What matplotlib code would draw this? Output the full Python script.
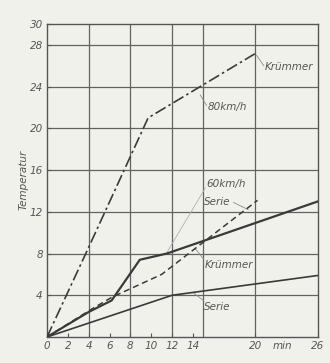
import matplotlib
matplotlib.use("Agg")
import matplotlib.pyplot as plt

# time in minutes, temperature
x_80_kruemmer = [0, 4, 9.7, 20.2]
y_80_kruemmer = [0, 8.6, 21.0, 27.3]

x_60_kruemmer = [0, 4, 6.2, 8.9, 11.5, 26]
y_60_kruemmer = [0, 2.4, 3.5, 7.4, 8.0, 13.0]

x_60_serie = [0, 4, 6.2, 11, 20.2]
y_60_serie = [0, 2.5, 3.8, 6.0, 13.1]

x_serie = [0, 12, 26]
y_serie = [0, 4.0, 5.9]

x_ticks = [0, 2, 4, 6, 8, 10, 12, 14, 20, 26]
x_ticklabels = ["0", "2", "4", "6", "8", "10", "12", "14", "20", "26"]
y_ticks = [4, 8, 12, 16, 20, 24, 28, 30]
x_grid = [4, 8, 12, 15, 20]
y_grid = [4, 8, 12, 16, 20, 24, 28]

plt.rcParams['font.family'] = ['Liberation Sans Narrow', 'DejaVu Sans']
bg = "#f1f1ec"
ink = "#3a3a3a"
txt = "#555555"

fig = plt.figure(figsize=(3.3, 3.63), dpi=100, facecolor=bg)
ax = fig.add_axes([47 / 330, 26 / 363, 271 / 330, 313 / 363], facecolor=bg)

for g in x_grid:
    ax.axvline(g, color="#626262", lw=0.9, zorder=1)
for g in y_grid:
    ax.axhline(g, color="#626262", lw=0.9, zorder=1)

ax.plot(x_80_kruemmer, y_80_kruemmer, color=ink, lw=1.2, ls=(0, (7, 2, 1.5, 2)), zorder=3)
ax.plot(x_60_kruemmer, y_60_kruemmer, color=ink, lw=1.6, zorder=3)
ax.plot(x_60_serie, y_60_serie, color=ink, lw=1.1, ls=(0, (4, 2.5)), zorder=3)
ax.plot(x_serie, y_serie, color=ink, lw=1.2, zorder=3)

ax.set_xlim(0, 26)
ax.set_ylim(0, 30)
ax.set_xticks(x_ticks)
ax.set_xticklabels(x_ticklabels)
ax.set_yticks(y_ticks)
ax.tick_params(direction="in", length=3, width=0.8, colors=txt, labelsize=7.5, pad=3)
for lab in ax.get_xticklabels() + ax.get_yticklabels():
    lab.set_style("italic")
for s in ax.spines.values():
    s.set_color("#555555")
    s.set_linewidth(1.0)

ax.text(22.6, -0.4, "min", ha="center", va="top", fontsize=7.5, style="italic", color=txt)
fig.text(24 / 330, 1 - 180 / 363, "Temperatur", rotation=90, ha="center", va="center",
         fontsize=7.5, style="italic", color=txt)

lbl = dict(fontsize=7.5, style="italic", color=txt, zorder=4)
lead = dict(color="#8a8a8a", lw=0.6, zorder=2)

ax.text(20.9, 25.9, "Krümmer", ha="left", va="center", **lbl)
ax.plot([20.1, 20.8], [27.0, 26.0], **lead)
ax.text(15.4, 22.0, "80km/h", ha="left", va="center", **lbl)
ax.plot([14.7, 15.3], [23.2, 22.2], **lead)

ax.text(15.3, 14.7, "60km/h", ha="left", va="center", **lbl)
ax.plot([15.2, 11.5], [14.3, 8.1], color="#b0b0b0", lw=0.6, zorder=2)
ax.text(15.1, 12.9, "Serie", ha="left", va="center", **lbl)
ax.plot([17.9, 19.3], [12.9, 12.2], **lead)
ax.text(15.1, 6.9, "Krümmer", ha="left", va="center", **lbl)
ax.plot([15.0, 14.2], [7.5, 8.5], **lead)
ax.text(15.1, 2.9, "Serie", ha="left", va="center", **lbl)
ax.plot([15.0, 14.1], [3.5, 4.2], **lead)

fig.savefig("out.png", dpi=100, facecolor=bg)
